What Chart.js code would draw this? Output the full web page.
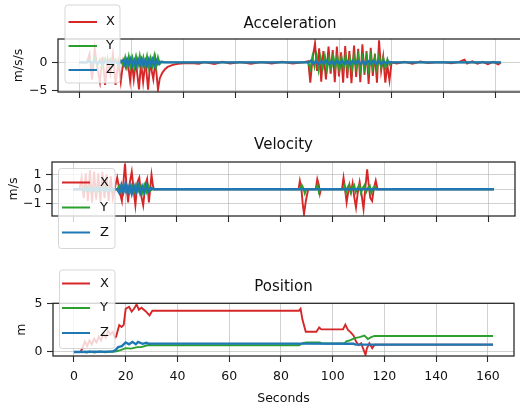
<!DOCTYPE html>
<html>
<head>
<meta charset="utf-8">
<script src="https://cdn.jsdelivr.net/npm/chart.js@4.4.0/dist/chart.umd.min.js"></script>
<style>
  html, body { margin: 0; padding: 0; background: #fff; overflow: hidden; width: 520px; height: 412px; }
  canvas { position: absolute; left: 0; top: 0; }
</style>
</head>
<body>
<canvas id="acc" width="540" height="412"></canvas>
<canvas id="vel" width="540" height="412"></canvas>
<canvas id="pos" width="540" height="412"></canvas>
<script>
// Series names and colours shared by the three panels
const seriesNames = ['X', 'Y', 'Z'];
const seriesColors = ['#d62728', '#2ca02c', '#1f77b4'];
const seriesWidths = [1.9, 1.9, 2.4];

// Tick values
const xTicks = [0, 20, 40, 60, 80, 100, 120, 140, 160];
const accTicks = [-5, 0];
const velTicks = [-1, 0, 1];
const posTicks = [0, 5];

// Acceleration (m/s/s), [seconds, value]
const accX = [[0,0],[3,0],[4,1.5],[5,-3],[6,2.5],[7,-1],[8,-3.5],[9,1],[10,-4],[11,0.5],[12,-2],[13,1.5],[14,-4],[15,0],[16,-3.5],[17,0.3],[18,-1],[18.7,0.2],[19.6,-3.3],[20.3,0],[21,-3],[21.8,0.2],[23,-4.8],[23.8,0],[24.6,-3.5],[25.5,0.3],[26.5,-4.85],[27.3,0],[28.5,-3],[29.3,0.3],[30.3,-4.85],[31,-2.8],[32,-1.8],[33,-1.2],[34,-0.8],[36,-0.45],[38,-0.25],[40,-0.15],[43,-0.1],[46,-0.25],[48,0.05],[52,-0.3],[55,0.1],[58,-0.2],[62,0.05],[66,-0.25],[70,0.05],[74,-0.2],[78,0.1],[82,-0.2],[86,0],[88,0.2],[88.8,-3.6],[89.6,0.5],[90.6,3.4],[91.4,-1.5],[92.2,2.5],[93,-3.4],[93.8,2.0],[94.8,-3.0],[95.8,2.8],[96.6,-2.0],[97.4,2.2],[98.2,-3.5],[99,2.8],[99.8,-2.5],[100.6,1.8],[101.4,-3.6],[102.2,2.9],[103,-2.8],[103.8,2.0],[104.6,-3.7],[105.6,3.0],[106.4,-2.6],[107.2,2.4],[108,-3.5],[108.8,3.2],[109.6,-2.2],[110.4,2.0],[111.2,-3.8],[112,2.6],[112.8,-2.4],[113.6,1.5],[114.4,-3.6],[115.2,3.9],[116,-1.5],[116.8,1.0],[117.6,-3.6],[118.4,-0.5],[119.2,-3.2],[120,0],[122,-0.2],[125,0.1],[128,-0.25],[131,0.15],[134,-0.1],[137,0],[140,0],[143,-0.15],[146,0.1],[148,0.5],[149,-0.2],[151,0.2],[153,-0.25],[155,0.1],[157,-0.3],[159,0.1],[161,-0.35],[162,0]];
const accY = [[0,0],[3,0],[4,0.6],[5,-0.5],[6,0.8],[7,-0.6],[8,0.5],[9,-0.7],[10,0.7],[11,-0.4],[12,0.6],[13,-0.6],[14,0.5],[15,-0.5],[16,0.3],[17,-0.6],[17.7,0.9],[18.4,-0.8],[19.1,1.1],[19.8,-0.7],[20.5,0.8],[21.2,-0.9],[21.9,1.0],[22.6,-0.6],[23.3,1.2],[24,-0.8],[24.7,0.9],[25.4,-0.7],[26.1,1.1],[26.8,-0.9],[27.5,0.8],[28.2,-0.6],[28.9,1.2],[29.6,-0.8],[30.3,0.9],[31,-0.3],[31.8,0.2],[33,0],[88,0],[88.8,-1.2],[89.6,1.0],[90.4,-0.8],[91.2,1.2],[92,-1.4],[92.8,0.9],[93.6,-1.0],[94.4,1.1],[95.2,-1.3],[96,0.8],[96.8,-1.1],[97.6,1.2],[98.4,-0.9],[99.2,1.0],[100,-1.4],[100.8,0.9],[101.6,-1.0],[102.4,1.3],[103.2,-1.2],[104,0.8],[104.8,-1.3],[105.6,1.1],[106.4,-0.9],[107.2,1.2],[108,-1.4],[108.8,0.9],[109.6,-1.1],[110.4,1.0],[111.2,-1.3],[112,1.2],[112.8,-1.0],[113.6,0.9],[114.4,-1.2],[115.2,1.1],[116,-0.9],[116.8,0.8],[117.6,-1.0],[118.4,0.6],[119.2,-0.4],[120,0],[162,0]];
const accZ = [[0,0],[3,0],[4,0.2],[5,-0.2],[6,0.25],[7,-0.2],[8,0.2],[9,-0.25],[10,0.2],[11,-0.15],[12,0.2],[13,-0.2],[14,0.15],[15,-0.2],[16,0.1],[17,0.4],[17.7,-0.5],[18.4,0.5],[19.1,-0.4],[19.8,0.6],[20.5,-0.5],[21.2,0.4],[21.9,-0.6],[22.6,0.5],[23.3,-0.4],[24,0.6],[24.7,-0.5],[25.4,0.4],[26.1,-0.6],[26.8,0.5],[27.5,-0.4],[28.2,0.5],[28.9,-0.5],[29.6,0.4],[30.3,-0.3],[31,0.1],[32,0],[88,0],[89,0.3],[90,-0.25],[91,0.2],[92,-0.3],[93,0.25],[94,-0.2],[95,0.3],[96,-0.25],[97,0.2],[98,-0.3],[99,0.25],[100,-0.2],[101,0.3],[102,-0.25],[103,0.2],[104,-0.3],[105,0.25],[106,-0.2],[107,0.3],[108,-0.25],[109,0.2],[110,-0.3],[111,0.25],[112,-0.2],[113,0.3],[114,-0.25],[115,0.2],[116,-0.3],[117,0.2],[118,-0.2],[119,0.1],[120,0],[162,0]];

// Velocity (m/s)
const velX = [[0,0],[2.5,0],[3.3,0.8],[4.1,-0.6],[4.9,1.1],[5.7,-0.8],[6.5,1.3],[7.3,-0.9],[8.1,1.2],[8.9,-0.7],[9.7,1.1],[10.5,-0.9],[11.3,1.2],[12.1,-0.6],[12.9,1.0],[13.7,-0.8],[14.5,0.9],[15.3,-0.6],[16.1,0.1],[17,0.8],[18,-0.2],[18.8,-0.8],[19.4,0.5],[20,1.77],[20.6,0.2],[21.2,-0.9],[21.8,0.4],[22.6,1.2],[23.3,0],[24,-1.1],[24.8,0.5],[25.5,0.8],[26.2,-0.4],[27,-1.1],[27.8,0.3],[28.5,0.7],[29.2,-0.9],[30.2,1.0],[30.8,0.2],[31.2,0],[86.8,0],[87.3,0.57],[87.9,0],[88.4,-1.0],[88.9,-1.7],[89.6,-0.8],[90.5,0],[93.4,0],[94,0.7],[94.6,0.3],[95,-0.3],[95.4,0],[103.5,0],[104.1,0.8],[104.7,0],[105.3,-0.9],[105.9,-0.2],[106.4,0.3],[107,-0.2],[107.6,0.4],[108.2,-0.5],[108.9,-1.25],[109.6,-0.2],[110.3,0.5],[111,-0.3],[111.8,-1.35],[112.5,0.1],[113.2,1.36],[113.8,0.3],[114.4,-0.6],[115.1,-0.8],[115.8,0.1],[116.5,0.6],[117.2,0],[162,0]];
const velY = [[0,0],[3,0],[4,0.15],[5,-0.1],[6,0.15],[7,-0.15],[8,0.1],[9,-0.15],[10,0.15],[11,-0.1],[12,0.15],[13,-0.1],[14,0.1],[15,-0.1],[16,0],[17,0],[17.8,0.25],[18.6,-0.2],[19.4,0.3],[20.2,-0.15],[21,0.2],[21.8,-0.25],[22.6,0.25],[23.4,-0.2],[24.2,0.3],[25,-0.15],[25.8,0.2],[26.6,-0.25],[27.4,0.3],[28.2,-0.2],[29,0.25],[29.8,-0.1],[30.6,0],[87.5,0],[88,0.3],[88.6,0.1],[89.2,-0.3],[89.8,0],[93.6,0],[94.1,0.3],[94.6,-0.2],[95.1,0],[104,0],[104.5,0.25],[105,-0.25],[105.5,0.1],[106.2,0.3],[106.8,-0.2],[107.5,0.1],[108.2,0.3],[108.8,-0.2],[109.5,0.1],[110.2,0.3],[110.8,-0.25],[111.5,0.1],[112.2,0.3],[112.8,-0.2],[113.5,0.1],[114.2,0.25],[114.8,-0.25],[115.5,0.1],[116.2,0.2],[116.8,0],[162,0]];
const velZ = [[0,0],[3,0],[4,-0.1],[5,0.1],[6,-0.1],[7,0.1],[8,-0.1],[9,0.1],[10,-0.1],[11,0.1],[12,-0.1],[13,0.1],[14,-0.1],[15,0.05],[16,0],[17,0],[17.8,-0.25],[18.6,0.3],[19.4,-0.2],[20.2,0.4],[21,-0.25],[21.8,0.3],[22.6,-0.3],[23.4,0.25],[24.2,-0.2],[25,0.3],[25.8,-0.25],[26.6,0.2],[27.4,-0.2],[28.2,0.25],[29,-0.15],[30,0.1],[31,0],[162,0]];

// Position (m)
const posX = [[0,0],[2.5,0],[3.3,0.4],[4.2,1.1],[5.1,0.6],[6,1.2],[6.9,0.8],[7.8,1.4],[8.7,1.0],[9.6,1.6],[10.5,1.2],[11.4,1.9],[12.3,1.5],[13.2,2.2],[14.1,1.8],[15,2.1],[15.8,1.5],[16.3,1.6],[17.5,2.8],[18.4,2.6],[19.2,2.8],[20,4.5],[21.3,4.7],[22.3,4.2],[23.2,4.5],[24.2,4.95],[25.1,4.4],[26.1,4.6],[27.7,4.25],[29.2,3.8],[30.3,4.3],[31,4.3],[87,4.3],[87.6,4.5],[88.3,3.4],[89.6,2.1],[93.7,2.1],[94.8,2.55],[95.6,2.35],[104,2.35],[104.9,2.85],[105.9,2.3],[106.8,2.1],[108.1,1.7],[109.1,1.05],[110.1,0.7],[111,0.9],[112.7,-0.3],[113.2,0.35],[114.2,0.9],[115.3,0.4],[116.2,0.75],[117,0.77],[162,0.77]];
const posY = [[0,0],[4,0],[5,-0.05],[6,0.05],[8,-0.05],[10,0.05],[12,-0.03],[14,0.05],[16,0.05],[18,0.2],[20,0.4],[22,0.35],[24.5,0.5],[26,0.5],[28.4,0.7],[30,0.7],[87,0.7],[88.6,0.95],[90,1.0],[95,1.0],[96,0.9],[104.6,0.9],[105.3,1.1],[106.6,1.2],[108.5,1.45],[110.4,1.55],[112.3,1.7],[113.6,1.35],[114.9,1.55],[116.2,1.67],[162,1.67]];
const posZ = [[0,0],[15,0.05],[16,0.2],[17.1,0.5],[18.5,0.6],[20,1.0],[21.3,0.8],[22.6,1.05],[23.9,0.8],[24.8,1.05],[26.5,0.85],[28,0.95],[29,0.85],[30,0.87],[87,0.87],[108,0.85],[109,0.77],[162,0.77]];

Chart.defaults.font.family = "'DejaVu Sans', sans-serif";
Chart.defaults.color = '#111';

const gridColor = 'rgba(176,176,176,0.6)';
const fmt = v => (v < 0 ? '\u2212' + Math.abs(v) : String(v));

// Frame on all four sides, then a semi-transparent legend box on top
const frameLegend = {
  id: 'frameLegend',
  afterDraw(chart, args, opts) {
    const ctx = chart.ctx, a = chart.chartArea;
    ctx.save();
    ctx.strokeStyle = '#2a2a2a';
    ctx.lineWidth = 1.3;
    ctx.strokeRect(a.left, a.top, a.right - a.left, a.bottom - a.top);

    const [bx, by, bw, bh] = opts.box, r = 3;
    ctx.beginPath();
    ctx.moveTo(bx + r, by);
    ctx.lineTo(bx + bw - r, by);
    ctx.arcTo(bx + bw, by, bx + bw, by + r, r);
    ctx.lineTo(bx + bw, by + bh - r);
    ctx.arcTo(bx + bw, by + bh, bx + bw - r, by + bh, r);
    ctx.lineTo(bx + r, by + bh);
    ctx.arcTo(bx, by + bh, bx, by + bh - r, r);
    ctx.lineTo(bx, by + r);
    ctx.arcTo(bx, by, bx + r, by, r);
    ctx.closePath();
    ctx.fillStyle = 'rgba(255,255,255,0.8)';
    ctx.fill();
    ctx.strokeStyle = 'rgba(204,204,204,0.8)';
    ctx.lineWidth = 1;
    ctx.stroke();

    ctx.font = "13px 'DejaVu Sans', sans-serif";
    ctx.textBaseline = 'middle';
    ctx.textAlign = 'left';
    chart.data.datasets.forEach((ds, i) => {
      const y = opts.rows[i];
      ctx.strokeStyle = ds.borderColor;
      ctx.lineWidth = 2;
      ctx.beginPath();
      ctx.moveTo(opts.handle[0], y);
      ctx.lineTo(opts.handle[1], y);
      ctx.stroke();
      ctx.fillStyle = '#111';
      ctx.fillText(ds.label, opts.textX, y);
    });
    ctx.restore();
  }
};

function panel(id, o) {
  const datasets = [o.x, o.y, o.z].map((s, i) => ({
    label: seriesNames[i],
    data: s.map(p => ({ x: p[0], y: p[1] })),
    borderColor: seriesColors[i],
    backgroundColor: seriesColors[i],
    borderWidth: seriesWidths[i],
    pointRadius: 0,
    tension: 0,
    fill: false,
    order: 3 - i
  }));
  return new Chart(document.getElementById(id), {
    type: 'line',
    data: { datasets },
    options: {
      responsive: false,
      animation: false,
      devicePixelRatio: 1,
      events: [],
      layout: { padding: { left: 0, top: o.padTop, right: 540 - o.right, bottom: o.padBottom } },
      plugins: {
        legend: { display: false },
        tooltip: { enabled: false },
        title: {
          display: true, text: o.title, fullSize: false, color: '#111',
          font: { size: 15, weight: 'normal' },
          padding: { top: 0, bottom: o.titleGap }
        },
        frameLegend: o.legend
      },
      scales: {
        x: {
          type: 'linear', min: -8.1, max: 170.1,
          afterBuildTicks: s => { s.ticks = xTicks.map(v => ({ value: v })); },
          afterFit: s => { s.height = o.xHeight; },
          ticks: {
            callback: v => (o.xLabels ? fmt(v) : ''),
            padding: 7, color: '#111', font: { size: 12.5 },
            maxRotation: 0, autoSkip: false
          },
          grid: { color: gridColor, lineWidth: 1, tickLength: 6, tickColor: '#2a2a2a', tickWidth: 1.1 },
          border: { display: false },
          title: {
            display: !!o.xTitle, text: o.xTitle || '', color: '#111',
            font: { size: 12.5 }, padding: { top: 0, bottom: 6 }
          }
        },
        y: {
          type: 'linear', min: o.yMin, max: o.yMax,
          afterBuildTicks: s => { s.ticks = o.yTicks.map(v => ({ value: v })); },
          afterFit: s => { s.width = o.left; },
          ticks: { callback: v => fmt(v), padding: 4.5, color: '#111', font: { size: 12.5 } },
          grid: { color: gridColor, lineWidth: 1, tickLength: 6, tickColor: '#2a2a2a', tickWidth: 1.1 },
          border: { display: false },
          title: {
            display: true, text: o.yTitle, color: '#111',
            font: { size: 12.5 }, padding: { top: o.yTitlePad, bottom: 0 }
          }
        }
      }
    },
    plugins: [frameLegend]
  });
}

panel('acc', {
  title: 'Acceleration', yTitle: 'm/s/s', x: accX, y: accY, z: accZ,
  yMin: -5.25, yMax: 4.15, yTicks: accTicks,
  left: 58, right: 522, padTop: 15, titleGap: 6, xHeight: 20, padBottom: 300,
  yTitlePad: 11, xLabels: false,
  legend: { box: [65, 5, 55, 78], rows: [22, 46, 70], handle: [68.5, 97], textX: 106 }
});

panel('vel', {
  title: 'Velocity', yTitle: 'm/s', x: velX, y: velY, z: velZ,
  yMin: -1.83, yMax: 1.87, yTicks: velTicks,
  left: 52, right: 515, padTop: 136, titleGap: 8, xHeight: 20, padBottom: 176,
  yTitlePad: 5.8, xLabels: false,
  legend: { box: [58.5, 168.5, 56.5, 80], rows: [182.5, 207.5, 232.5], handle: [62, 90], textX: 100 }
});

panel('pos', {
  title: 'Position', yTitle: 'm', x: posX, y: posY, z: posZ,
  yMin: -0.42, yMax: 5.07, yTicks: posTicks,
  left: 53, right: 514, padTop: 278.5, titleGap: 6.8, xHeight: 56, padBottom: 0,
  yTitlePad: 14.2, xLabels: true, xTitle: 'Seconds',
  legend: { box: [59.5, 270, 55.5, 78.5], rows: [283.5, 308, 333], handle: [62, 90], textX: 100 }
});
</script>
</body>
</html>
